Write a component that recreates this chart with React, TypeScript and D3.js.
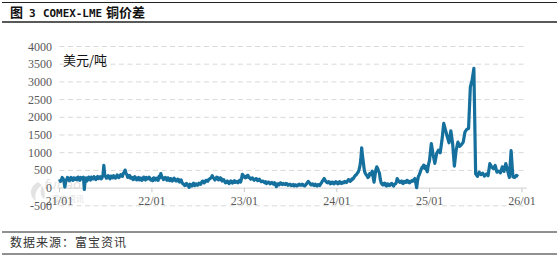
import React from "react";
import * as d3 from "d3";

const titleParts = ["图", "3", "COMEX-LME", "铜价差"];
const unitLabel = "美元/吨";
const sourceLabel = "数据来源：富宝资讯";
const yTicks = [-500, 0, 500, 1000, 1500, 2000, 2500, 3000, 3500, 4000];
const xTickLabels = ["21/01", "22/01", "23/01", "24/01", "25/01", "26/01"];
const xTickYears = [2021, 2022, 2023, 2024, 2025, 2026];

// weekly values (USD/t), one array per year, starting Jan 1
const v2021 = [250,220,270,30, 240,280,230,260,290, 250,230,270,300,280, -40, 290,240,280,310,260,290, 300,270,320,290, 640, 330,290,310,340,290, 320,300,350,330,360, 420,510,380,330, 280,300,250,290,260,230, 280,240,270,300,260,280];
const v2022 = [250,290,230,270, 330,410,300,260, 250,290,210,260,230, 250,200,240,190,150, 110,80,100,20,90, 110,70,120,90,130, 160,190,170,210,240,280, 350, 270, 260,300,240,280,220, 190,160,180,150,170,190, 160,180,200,170, 390];
const v2023 = [340,300,360,290, 270,250,240,260,230, 210,190,170,180,150, 160,140,130,150,40, 120,140,110,130,100,120,90, 100,80,60,90,70,110, 80,100,60,120, 190,130, 100,80,110,60,90,120, 200,270,190, 150,170,130,160,140];
const v2024 = [160,130,170,140,150,180, 200,230,210,250, 330,380,450,620,1140,700,420, 350,320,380,480, 170,520,560,430, 150,90,140,60,110, 80,130,60,120,270, 200,180,140,190,160, 210,150,180,200, 270,10,330, 450,580,650,620,460];
const v2025 = [790,1260,950,700, 980,1070,1000,1350,1830,1640,1450,1280,1620,1270,620,1070,1300,1180,1230,1300,1590,1660,1680, 2850,3050,3380, 400, 330,450,380,420,340,400,350,690,600,550,640,450,480,430,600,470,690,500,300,1060,320,300,360,330];

// mid-week readings (USD/t), half a week after each weekly reading
const m2021 = [190,300,200,180,300,210,300,220,240,290,310,220,260,310,260,200,310,230,270,320,240,330,300,260,360,380,280,350,260,300,350,280,370,300,380,330,450,420,300,360,310,240,320,230,300,280,220,310,230,260,310,230];
const m2022 = [210,260,280,220,290,330,240,300,220,240,270,200,280,200,250,170,230,120,70,130,60,110,60,140,100,80,140,110,200,150,220,190,260,300,300,230,310,230,290,200,240,150,200,130,200,140,210,190,150,220,260,320];
const m2023 = [290,350,300,250,290,220,270,210,250,180,200,150,130,170,120,160,110,130,110,90,150,100,110,130,80,110,70,100,90,60,100,80,110,70,90,150,160,90,120,70,90,100,70,150,230,220,160,180,120,170,120,180];
const m2024 = [120,180,130,170,190,160,240,190,260,290,360,420,520,800,900,500,380,300,410,420,300,350,600,480,250,110,130,80,120,70,120,90,110,150,220,160,200,130,170,220,160,190,220,230,150,200,380,520,600,560,530,620];

const weekly: [number, number[]][] = [
  [2021, v2021],
  [2022, v2022],
  [2023, v2023],
  [2024, v2024],
  [2025, v2025],
];
const midweek: [number, number[]][] = [
  [2021, m2021],
  [2022, m2022],
  [2023, m2023],
  [2024, m2024],
];

type Pt = { date: Date; value: number };
const data: Pt[] = [];
weekly.forEach(([yr, vals]) => {
  vals.forEach((v, i) => data.push({ date: new Date(yr, 0, 1 + 7 * i), value: v }));
});
midweek.forEach(([yr, vals]) => {
  vals.forEach((v, i) => data.push({ date: new Date(yr, 0, 1 + 7 * i, 84), value: v }));
});
data.sort((a, b) => +a.date - +b.date);

export default function App() {
  const W = 557;
  const H = 256;
  const x = d3.scaleTime().domain([new Date(2021, 0, 1), new Date(2026, 0, 1)]).range([59.5, 522]);
  const y = d3.scaleLinear().domain([-500, 4000]).range([205.8, 46.5]);
  const plotRight = 527;
  const line = d3
    .line<Pt>()
    .x((d) => x(d.date))
    .y((d) => y(d.value))
    .curve(d3.curveLinear);

  const serif = "'Liberation Serif', 'Times New Roman', serif";
  const cjk = "'Noto Sans CJK SC', sans-serif";
  const mono = "'DejaVu Sans Mono', monospace";

  return (
    <svg width={W} height={H} style={{ position: "absolute", left: 0, top: 0, background: "#fff" }}>
      {/* header */}
      <line x1={2} x2={557} y1={2.5} y2={2.5} stroke="#222" strokeWidth={1} />
      <text y={17} fontWeight="bold" fill="#111">
        <tspan x={10} fontFamily={cjk} fontSize={13}>{titleParts[0]}</tspan>
        <tspan x={29} fontFamily={mono} fontSize={11}>{titleParts[1]}</tspan>
        <tspan x={43} fontFamily={mono} fontSize={11} textLength={59} lengthAdjust="spacingAndGlyphs">{titleParts[2]}</tspan>
        <tspan x={106} fontFamily={cjk} fontSize={13}>{titleParts[3]}</tspan>
      </text>
      <line x1={2} x2={557} y1={22} y2={22} stroke="#222" strokeWidth={1.5} />

      {/* gridlines */}
      {yTicks.filter((t) => t !== 0).map((t) => (
        <line key={t} x1={59.5} x2={plotRight} y1={y(t)} y2={y(t)} stroke="#d9d9d9" strokeWidth={1} strokeDasharray="5,3.5" />
      ))}

      {/* watermark */}
      <g opacity={0.5}>
        <path d="M38,182 C30,186 28,196 36,201 C34,195 36,189 42,185 C40,190 40,196 44,199 C46,192 44,186 38,182 Z" fill="#c8c8c8" />
        <text x={44} y={189} fontFamily="'DejaVu Sans', sans-serif" fontStyle="italic" fontSize={13} fill="#c8c8c8">fubao</text>
        <text x={52} y={202} fontFamily={cjk} fontSize={8} fill="#c8c8c8">富宝资讯</text>
      </g>

      {/* zero axis */}
      <line x1={59.5} x2={plotRight} y1={y(0)} y2={y(0)} stroke="#d0d0d0" strokeWidth={1} />
      {xTickYears.map((yr) => (
        <line key={yr} x1={x(new Date(yr, 0, 1))} x2={x(new Date(yr, 0, 1))} y1={y(0)} y2={y(0) + 4} stroke="#c8c8c8" strokeWidth={1} />
      ))}

      {/* y tick labels */}
      {yTicks.map((t) => (
        <text key={t} x={52} y={y(t) + 4} textAnchor="end" fontFamily={serif} fontSize={12} fill="#595959">
          {t}
        </text>
      ))}

      {/* x tick labels */}
      {xTickYears.map((yr, i) => (
        <text key={yr} x={x(new Date(yr, 0, 1))} y={205} textAnchor="middle" fontFamily={serif} fontSize={12} fill="#595959">
          {xTickLabels[i]}
        </text>
      ))}

      {/* unit */}
      <text x={63} y={65} fontFamily={cjk} fontSize={13} fill="#111">
        {unitLabel}
      </text>

      {/* series */}
      <path d={line(data) || ""} fill="none" stroke="#16709e" strokeWidth={3.2} strokeLinejoin="round" />

      {/* footer */}
      <line x1={2} x2={557} y1={232} y2={232} stroke="#222" strokeWidth={1} />
      <text x={10} y={247} fontFamily={cjk} fontSize={12} fill="#333" letterSpacing={1}>
        {sourceLabel}
      </text>
      <line x1={2} x2={557} y1={254} y2={254} stroke="#222" strokeWidth={1} />
    </svg>
  );
}
